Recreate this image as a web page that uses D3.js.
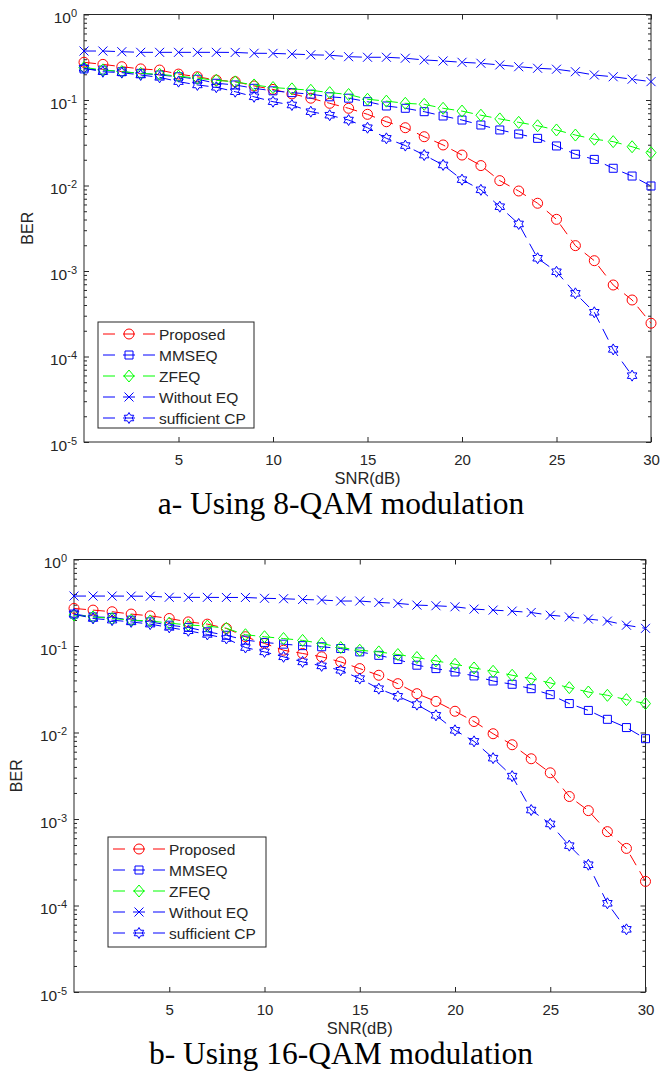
<!DOCTYPE html>
<html>
<head>
<meta charset="utf-8">
<script src="https://cdn.jsdelivr.net/npm/d3@7"></script>
<style>
  body { margin: 0; background: #fff; }
  svg { display: block; }
</style>
</head>
<body>
<script>
// SNR axis (dB)
const snr = [0, 1, 2, 3, 4, 5, 6, 7, 8, 9, 10, 11, 12, 13, 14, 15, 16, 17, 18, 19, 20, 21, 22, 23, 24, 25, 26, 27, 28, 29, 30];

const seriesNames = ["Proposed", "MMSEQ", "ZFEQ", "Without EQ", "sufficient CP"];
const seriesColors = ["#ff0000", "#0000ff", "#00ff00", "#0000ff", "#0000ff"];
const seriesMarkers = ["circle", "square", "diamond", "x", "hexagram"];

const xTickValues = [5, 10, 15, 20, 25, 30];
const yTickExponents = [0, -1, -2, -3, -4, -5];
const captions = ["a- Using 8-QAM modulation", "b- Using 16-QAM modulation"];

// a- 8-QAM, BER
const proposed8 = [0.276, 0.261, 0.245, 0.231, 0.224, 0.201, 0.187, 0.171, 0.164, 0.146, 0.133, 0.118, 0.105, 0.0915, 0.080, 0.068, 0.0557, 0.0474, 0.0372, 0.0298, 0.0227, 0.0171, 0.0114, 0.00862, 0.0062, 0.00402, 0.00198, 0.00132, 0.000686, 0.000458, 0.000245];
const mmse8 = [0.231, 0.224, 0.214, 0.205, 0.196, 0.187, 0.175, 0.157, 0.150, 0.137, 0.128, 0.122, 0.117, 0.109, 0.105, 0.0955, 0.0851, 0.080, 0.073, 0.065, 0.0583, 0.051, 0.0446, 0.040, 0.0356, 0.029, 0.0232, 0.0202, 0.0159, 0.0129, 0.00987];
const zf8 = [0.24, 0.225, 0.215, 0.205, 0.20, 0.19, 0.18, 0.17, 0.163, 0.15, 0.14, 0.135, 0.13, 0.122, 0.116, 0.102, 0.097, 0.0915, 0.089, 0.080, 0.0742, 0.0664, 0.0601, 0.0548, 0.050, 0.0446, 0.0389, 0.0348, 0.0326, 0.0284, 0.0242];
const noeq8 = [0.374, 0.374, 0.367, 0.361, 0.361, 0.361, 0.361, 0.361, 0.36, 0.352, 0.351, 0.345, 0.338, 0.334, 0.321, 0.316, 0.316, 0.308, 0.294, 0.286, 0.276, 0.269, 0.257, 0.245, 0.235, 0.229, 0.214, 0.196, 0.187, 0.175, 0.164];
const cp8 = [0.235, 0.214, 0.209, 0.196, 0.184, 0.164, 0.15, 0.141, 0.125, 0.109, 0.0955, 0.0874, 0.073, 0.0664, 0.0583, 0.0474, 0.0356, 0.0293, 0.0227, 0.0174, 0.0117, 0.0089, 0.00565, 0.00355, 0.00141, 0.00098, 0.000548, 0.000329, 0.000121, 0.0000597];

// b- 16-QAM
const proposed16 = [0.272, 0.26, 0.249, 0.234, 0.223, 0.208, 0.190, 0.179, 0.16, 0.128, 0.107, 0.0894, 0.082, 0.075, 0.0655, 0.0548, 0.0459, 0.0367, 0.0281, 0.0229, 0.0176, 0.0134, 0.00968, 0.00722, 0.00497, 0.00342, 0.00182, 0.00125, 0.000714, 0.000457, 0.00019];
const mmse16 = [0.234, 0.217, 0.214, 0.199, 0.190, 0.174, 0.164, 0.146, 0.133, 0.117, 0.110, 0.105, 0.101, 0.098, 0.0935, 0.0855, 0.078, 0.0697, 0.06, 0.0548, 0.0501, 0.0451, 0.0394, 0.0361, 0.0321, 0.0274, 0.0216, 0.018, 0.0142, 0.0114, 0.00848];
const zf16 = [0.228, 0.217, 0.208, 0.199, 0.195, 0.184, 0.175, 0.170, 0.160, 0.135, 0.128, 0.122, 0.116, 0.107, 0.096, 0.0894, 0.0855, 0.0797, 0.0736, 0.0673, 0.0615, 0.0557, 0.051, 0.0459, 0.042, 0.0374, 0.033, 0.0294, 0.0269, 0.024, 0.0216];
const noeq16 = [0.378, 0.378, 0.378, 0.377, 0.376, 0.366, 0.365, 0.365, 0.364, 0.364, 0.356, 0.352, 0.345, 0.340, 0.331, 0.331, 0.319, 0.311, 0.297, 0.292, 0.284, 0.267, 0.260, 0.253, 0.244, 0.227, 0.217, 0.205, 0.194, 0.174, 0.160];
const cp16 = [0.234, 0.208, 0.199, 0.19, 0.179, 0.164, 0.15, 0.136, 0.122, 0.096, 0.0855, 0.075, 0.0655, 0.0589, 0.0524, 0.042, 0.0321, 0.0262, 0.021, 0.0158, 0.0106, 0.0079, 0.00505, 0.00313, 0.00127, 0.000877, 0.000492, 0.000296, 0.000106, 0.000053];

const W = 662, H = 1087;
const axisColor = "#262626";
const sans = "'Liberation Sans', Arial, Helvetica, sans-serif";

const svg = d3.select("body").append("svg")
    .attr("width", W)
    .attr("height", H);

const panels = [
    { left: 84, right: 651, top: 14.5, bottom: 442, legend: { x: 98, y: 322, w: 156, h: 106 }, ylabelX: 27,
      data: [proposed8, mmse8, zf8, noeq8, cp8], caption: captions[0] },
    { left: 74, right: 645.5, top: 559.5, bottom: 992, legend: { x: 108, y: 837, w: 158, h: 110 }, ylabelX: 16,
      data: [proposed16, mmse16, zf16, noeq16, cp16], caption: captions[1] }
];

function markerPath(type) {
    const p = d3.path();
    if (type === "circle") {
        p.moveTo(5, 0); p.arc(0, 0, 5, 0, 2 * Math.PI);
    } else if (type === "square") {
        p.rect(-4, -4, 8, 8);
    } else if (type === "diamond") {
        p.moveTo(0, -6); p.lineTo(5, 0); p.lineTo(0, 6); p.lineTo(-5, 0); p.closePath();
    } else if (type === "x") {
        p.moveTo(-4.5, -4.5); p.lineTo(4.5, 4.5);
        p.moveTo(-4.5, 4.5); p.lineTo(4.5, -4.5);
    } else if (type === "hexagram") {
        for (let k = 0; k < 12; k++) {
            const a = (-90 + k * 30) * Math.PI / 180;
            const r = k % 2 === 0 ? 5.5 : 3.2;
            if (k === 0) p.moveTo(r * Math.cos(a), r * Math.sin(a));
            else p.lineTo(r * Math.cos(a), r * Math.sin(a));
        }
        p.closePath();
    }
    return p.toString();
}

function drawPanel(cfg) {
    const g = svg.append("g");

    const x = d3.scaleLinear().domain([0, 30]).range([cfg.left, cfg.right]);
    const y = d3.scaleLog().domain([1e-5, 1]).range([cfg.bottom, cfg.top]);

    const majors = yTickExponents.map(e => Math.pow(10, e));
    const minors = [];
    yTickExponents.slice(1).forEach(e => {
        for (let m = 2; m <= 9; m++) minors.push(m * Math.pow(10, e));
    });

    // white plot area
    g.append("rect")
        .attr("x", cfg.left).attr("y", cfg.top)
        .attr("width", cfg.right - cfg.left).attr("height", cfg.bottom - cfg.top)
        .attr("fill", "#fff");

    // axes (ticks inward, like matlab)
    const xb = g.append("g")
        .attr("transform", "translate(0," + cfg.bottom + ")")
        .call(d3.axisBottom(x).tickValues(xTickValues).tickSize(-5).tickPadding(12).tickFormat(d3.format("d")));
    g.append("g")
        .attr("transform", "translate(0," + cfg.top + ")")
        .call(d3.axisTop(x).tickValues(xTickValues).tickSize(-5).tickFormat(""));

    g.append("g")
        .attr("transform", "translate(" + cfg.left + ",0)")
        .call(d3.axisLeft(y).tickValues(majors).tickSize(-5).tickFormat(""));
    g.append("g")
        .attr("transform", "translate(" + cfg.left + ",0)")
        .call(d3.axisLeft(y).tickValues(minors).tickSize(-3).tickFormat(""));
    g.append("g")
        .attr("transform", "translate(" + cfg.right + ",0)")
        .call(d3.axisRight(y).tickValues(majors).tickSize(-5).tickFormat(""));
    g.append("g")
        .attr("transform", "translate(" + cfg.right + ",0)")
        .call(d3.axisRight(y).tickValues(minors).tickSize(-3).tickFormat(""));

    g.selectAll(".domain").remove();
    g.selectAll(".tick line").attr("stroke", axisColor).attr("stroke-width", 1);
    xb.selectAll("text")
        .attr("fill", axisColor)
        .style("font-family", sans)
        .style("font-size", "15px");

    // y tick labels 10^n
    const lab = g.append("g");
    yTickExponents.forEach(e => {
        const t = lab.append("text")
            .attr("x", cfg.left - 7)
            .attr("y", y(Math.pow(10, e)) + 8.5)
            .attr("text-anchor", "end")
            .attr("fill", axisColor)
            .style("font-family", sans)
            .style("font-size", "15.5px");
        t.append("tspan").text("10");
        t.append("tspan").attr("dy", -6).style("font-size", "11px").text(String(e));
    });

    // box
    g.append("rect")
        .attr("x", cfg.left).attr("y", cfg.top)
        .attr("width", cfg.right - cfg.left).attr("height", cfg.bottom - cfg.top)
        .attr("fill", "none")
        .attr("stroke", axisColor)
        .attr("stroke-width", 1);

    // series
    const line = d3.line()
        .x((d, i) => x(snr[i]))
        .y(d => y(d));

    cfg.data.forEach((vals, s) => {
        g.append("path")
            .datum(vals)
            .attr("d", line)
            .attr("fill", "none")
            .attr("stroke", seriesColors[s])
            .attr("stroke-width", 1)
            .attr("stroke-dasharray", "12,7");
        g.selectAll(".m" + s)
            .data(vals)
            .enter()
            .append("path")
            .attr("class", "m" + s)
            .attr("transform", (d, i) => "translate(" + x(snr[i]) + "," + y(d) + ")")
            .attr("d", markerPath(seriesMarkers[s]))
            .attr("fill", "none")
            .attr("stroke", seriesColors[s])
            .attr("stroke-width", 1);
    });

    // legend
    const L = cfg.legend;
    const lg = g.append("g");
    lg.append("rect")
        .attr("x", L.x).attr("y", L.y)
        .attr("width", L.w).attr("height", L.h)
        .attr("fill", "#fff")
        .attr("stroke", axisColor)
        .attr("stroke-width", 1);
    seriesNames.forEach((name, s) => {
        const ry = L.y + 12 + s * 21;
        lg.append("line")
            .attr("x1", L.x + 5).attr("x2", L.x + 57)
            .attr("y1", ry).attr("y2", ry)
            .attr("stroke", seriesColors[s])
            .attr("stroke-width", 1)
            .attr("stroke-dasharray", "12,8");
        lg.append("path")
            .attr("transform", "translate(" + (L.x + 31) + "," + ry + ")")
            .attr("d", markerPath(seriesMarkers[s]))
            .attr("fill", "none")
            .attr("stroke", seriesColors[s])
            .attr("stroke-width", 1);
        lg.append("text")
            .attr("x", L.x + 61)
            .attr("y", ry + 5.5)
            .attr("fill", axisColor)
            .style("font-family", sans)
            .style("font-size", "15.5px")
            .text(name);
    });

    // axis labels
    g.append("text")
        .attr("transform", "translate(" + (cfg.ylabelX + 6) + "," + ((cfg.top + cfg.bottom) / 2) + ") rotate(-90)")
        .attr("text-anchor", "middle")
        .attr("fill", axisColor)
        .style("font-family", sans)
        .style("font-size", "16px")
        .text("BER");
    g.append("text")
        .attr("x", (cfg.left + cfg.right) / 2)
        .attr("y", cfg.bottom + 42)
        .attr("text-anchor", "middle")
        .attr("fill", axisColor)
        .style("font-family", sans)
        .style("font-size", "16.5px")
        .text("SNR(dB)");

    // caption
    g.append("text")
        .attr("x", 341)
        .attr("y", cfg.bottom + 72)
        .attr("text-anchor", "middle")
        .attr("fill", "#000")
        .style("font-family", "'Liberation Serif', 'Times New Roman', serif")
        .style("font-size", "31.5px")
        .text(cfg.caption);
}

panels.forEach(drawPanel);
</script>
</body>
</html>
